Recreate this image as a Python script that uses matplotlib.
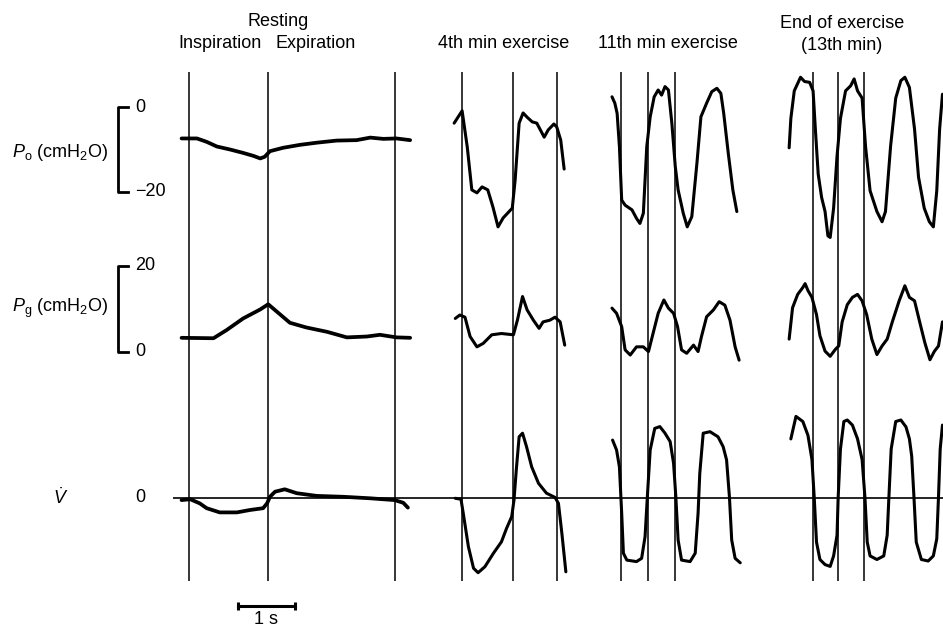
import numpy as np
import matplotlib
matplotlib.use('Agg')
from matplotlib import pyplot as plt

# --- traces, time in s from start of each recording, pressures in cmH2O, flow in L/s ---
rest_t_po = [0.01, 0.28, 0.45, 0.63, 0.86, 1.09, 1.27, 1.39, 1.47, 1.56, 1.79, 2.09, 2.38, 2.73, 3.08, 3.32, 3.55, 3.78, 4.02]
rest_po = [-7.4, -7.4, -8.2, -9.3, -10.0, -10.8, -11.5, -12.1, -11.7, -10.4, -9.6, -8.9, -8.4, -7.9, -7.8, -7.2, -7.5, -7.4, -7.8]
rest_t_pg = [0.01, 0.57, 0.80, 1.09, 1.39, 1.53, 1.68, 1.91, 2.20, 2.56, 2.91, 3.26, 3.49, 3.78, 4.02]
rest_pg = [3.3, 3.2, 5.1, 7.8, 9.9, 11.1, 9.4, 6.8, 5.7, 4.7, 3.4, 3.6, 4.0, 3.4, 3.3]
rest_t_v = [0.01, 0.16, 0.33, 0.45, 0.68, 0.98, 1.21, 1.44, 1.51, 1.56, 1.65, 1.82, 2.03, 2.38, 2.85, 3.32, 3.75, 3.90, 3.98]
rest_v = [-0.07, -0.04, -0.18, -0.34, -0.48, -0.48, -0.40, -0.34, -0.18, 0.04, 0.21, 0.29, 0.16, 0.07, 0.04, -0.01, -0.07, -0.16, -0.32]

ex4_t_po = [0.02, 0.16, 0.25, 0.33, 0.42, 0.51, 0.61, 0.70, 0.79, 0.88, 1.04, 1.09, 1.16, 1.23, 1.30, 1.39, 1.47, 1.60, 1.67, 1.77, 1.82, 1.89, 1.95]
ex4_po = [-3.8, -0.9, -9.4, -19.5, -20.2, -18.8, -19.5, -23.5, -28.2, -26.1, -23.8, -17.2, -3.8, -1.4, -2.4, -3.5, -3.8, -7.1, -5.4, -4.0, -4.7, -7.8, -14.6]
ex4_t_pg = [0.04, 0.12, 0.21, 0.30, 0.42, 0.53, 0.68, 0.85, 1.06, 1.13, 1.22, 1.30, 1.41, 1.51, 1.58, 1.70, 1.79, 1.88, 1.96]
ex4_pg = [7.8, 8.6, 8.1, 3.6, 1.2, 2.0, 4.0, 4.3, 4.0, 7.4, 12.9, 9.8, 7.4, 5.5, 7.0, 7.4, 8.1, 7.0, 1.6]
ex4_t_v = [0.04, 0.14, 0.18, 0.27, 0.36, 0.44, 0.56, 0.71, 0.85, 0.94, 1.03, 1.07, 1.11, 1.16, 1.22, 1.29, 1.38, 1.50, 1.64, 1.79, 1.85, 1.91, 1.98]
ex4_v = [-0.01, -0.04, -0.51, -1.62, -2.34, -2.49, -2.29, -1.84, -1.46, -1.01, -0.62, -0.07, 0.93, 2.04, 2.16, 1.71, 1.04, 0.49, 0.16, 0.02, -0.18, -1.18, -2.46]

ex11_t_po = [0.00, 0.05, 0.09, 0.13, 0.17, 0.23, 0.35, 0.43, 0.49, 0.55, 0.61, 0.67, 0.74, 0.81, 0.87, 0.93, 0.99, 1.05, 1.11, 1.16, 1.25, 1.32, 1.40, 1.49, 1.56, 1.66, 1.75, 1.84, 1.91, 1.96, 2.04, 2.12, 2.19]
ex11_po = [2.4, 0.9, -1.5, -9.3, -21.9, -23.1, -24.2, -26.2, -27.4, -25.0, -9.3, -2.3, 2.4, 4.0, 2.8, 4.8, 4.0, -3.8, -14.0, -19.5, -25.0, -28.2, -25.8, -13.2, -2.3, 0.9, 3.6, 4.4, 3.2, -1.5, -10.9, -19.5, -24.6]
ex11_t_pg = [0.00, 0.08, 0.17, 0.23, 0.32, 0.43, 0.55, 0.64, 0.72, 0.81, 0.91, 0.99, 1.08, 1.15, 1.22, 1.31, 1.43, 1.51, 1.57, 1.66, 1.78, 1.88, 1.98, 2.07, 2.16, 2.23]
ex11_pg = [10.2, 9.0, 5.9, 0.5, -0.7, 1.2, 1.2, 0.1, 4.3, 9.0, 12.1, 10.2, 9.0, 5.9, 0.5, -0.3, 1.6, 0.1, 3.6, 8.2, 9.8, 11.7, 10.9, 7.4, 1.2, -1.9]
ex11_t_v = [0.01, 0.08, 0.13, 0.17, 0.20, 0.26, 0.43, 0.52, 0.58, 0.62, 0.67, 0.75, 0.84, 0.93, 1.02, 1.08, 1.12, 1.16, 1.22, 1.37, 1.46, 1.51, 1.54, 1.60, 1.72, 1.86, 1.95, 2.01, 2.06, 2.10, 2.16, 2.25]
ex11_v = [1.93, 1.60, 1.04, -0.51, -1.84, -2.07, -2.12, -2.01, -1.29, 0.04, 1.60, 2.32, 2.38, 2.16, 1.88, 1.16, 0.04, -1.40, -2.07, -2.12, -1.84, -0.51, 0.82, 2.16, 2.21, 2.04, 1.71, 1.27, 0.04, -1.40, -2.01, -2.16]

end_t_po = [0.02, 0.05, 0.11, 0.22, 0.29, 0.38, 0.44, 0.48, 0.53, 0.59, 0.65, 0.70, 0.74, 0.80, 0.86, 0.92, 1.01, 1.10, 1.16, 1.22, 1.30, 1.36, 1.44, 1.56, 1.65, 1.71, 1.80, 1.89, 1.98, 2.05, 2.13, 2.22, 2.29, 2.39, 2.48, 2.55, 2.61, 2.66, 2.71]
end_po = [-9.6, -2.7, 3.8, 7.0, 6.0, 5.8, 3.8, -5.2, -15.8, -21.3, -24.6, -30.3, -30.7, -23.8, -11.6, -2.7, 3.8, 5.0, 6.6, 3.8, 2.1, -9.2, -19.7, -24.6, -27.0, -24.6, -9.2, 2.1, 6.2, 7.0, 4.6, -5.2, -16.5, -23.8, -27.0, -28.2, -19.7, -5.2, 3.0]
end_t_pg = [0.02, 0.08, 0.17, 0.26, 0.30, 0.35, 0.42, 0.50, 0.56, 0.65, 0.74, 0.83, 0.89, 0.95, 1.04, 1.13, 1.22, 1.30, 1.38, 1.47, 1.56, 1.65, 1.74, 1.83, 1.95, 2.05, 2.13, 2.22, 2.31, 2.40, 2.49, 2.57, 2.64, 2.71]
end_pg = [3.0, 10.3, 13.4, 15.0, 15.9, 14.3, 12.7, 8.7, 3.8, 0.2, -1.0, 0.6, 1.4, 7.0, 11.0, 12.7, 13.4, 11.9, 8.7, 3.0, -0.6, 1.4, 3.0, 7.0, 11.9, 15.4, 12.7, 11.9, 7.0, 2.2, -1.8, 0.2, 1.4, 7.0]
end_t_v = [0.05, 0.14, 0.26, 0.35, 0.42, 0.46, 0.50, 0.56, 0.65, 0.74, 0.80, 0.86, 0.88, 0.92, 0.98, 1.04, 1.13, 1.22, 1.30, 1.35, 1.39, 1.44, 1.56, 1.68, 1.74, 1.77, 1.81, 1.89, 1.98, 2.07, 2.13, 2.17, 2.21, 2.25, 2.34, 2.46, 2.55, 2.61, 2.64, 2.67, 2.71]
end_v = [1.97, 2.72, 2.55, 2.09, 1.28, 0.02, -1.47, -2.05, -2.22, -2.28, -1.93, -1.24, 0.02, 1.63, 2.55, 2.60, 2.43, 1.97, 1.28, 0.02, -1.47, -1.93, -2.05, -1.93, -1.24, 0.02, 1.63, 2.55, 2.60, 2.37, 1.97, 1.40, 0.02, -1.47, -2.05, -2.10, -1.93, -1.36, 0.02, 1.63, 2.43]

# phase markers (start of inspiration / expiration), s from start of each recording
rest_marks = [0.14, 1.53, 3.75]
ex4_marks = [0.16, 1.05, 1.82]
ex11_marks = [0.16, 0.63, 1.11]
end_marks = [0.44, 0.87, 1.33]

# --- layout ---
W, H = 943, 629
PX_PER_S = 57.0
FONT = 'Liberation Sans'

plt.rcParams['font.family'] = [FONT, 'DejaVu Sans']
plt.rcParams['mathtext.fontset'] = 'custom'
plt.rcParams['mathtext.rm'] = FONT
plt.rcParams['mathtext.it'] = FONT + ':italic'

def fy(py):
    return 1 - py / H

fig = plt.figure(figsize=(W / 100, H / 100), dpi=100)

def row_axes(top, bottom, zero_px, px_per_unit):
    ax = fig.add_axes([0, fy(bottom), 1, fy(top) - fy(bottom)])
    ax.set_xlim(0, W / PX_PER_S)
    ax.set_ylim((zero_px - bottom) / px_per_unit, (zero_px - top) / px_per_unit)
    ax.axis('off')
    return ax

ax_po = row_axes(72, 250, 107, 4.25)
ax_pg = row_axes(250, 400, 352, 4.3)
ax_v = row_axes(400, 581, 498, 30.0)
rows = [ax_po, ax_pg, ax_v]

segments = [
    # start (s on the page), line width, traces, markers
    (181 / PX_PER_S, 2.7, [(rest_t_po, rest_po), (rest_t_pg, rest_pg), (rest_t_v, rest_v)], rest_marks),
    (453 / PX_PER_S, 2.2, [(ex4_t_po, ex4_po), (ex4_t_pg, ex4_pg), (ex4_t_v, ex4_v)], ex4_marks),
    (612 / PX_PER_S, 2.2, [(ex11_t_po, ex11_po), (ex11_t_pg, ex11_pg), (ex11_t_v, ex11_v)], ex11_marks),
    (788 / PX_PER_S, 2.2, [(end_t_po, end_po), (end_t_pg, end_pg), (end_t_v, end_v)], end_marks),
]

for start, lw, traces, marks in segments:
    for ax, (t, y) in zip(rows, traces):
        ax.plot(start + np.array(t), y, color='black', lw=lw,
                solid_capstyle='round', solid_joinstyle='round', clip_on=False)
        for m in marks:
            ax.axvline(start + m, color='black', lw=1.1)

# flow zero line
ax_v.hlines(0, 173 / PX_PER_S, W / PX_PER_S, color='black', lw=1.2)

# calibration brackets
bx0, bx1, lx = 118 / PX_PER_S, 128 / PX_PER_S, 135 / PX_PER_S
ax_po.plot([bx1, bx0, bx0, bx1], [0, 0, -20, -20], color='black', lw=2.0, clip_on=False)
ax_pg.plot([bx1, bx0, bx0, bx1], [20, 20, 0, 0], color='black', lw=2.0, clip_on=False)
fs = 13
ax_po.text(lx, 0, '0', fontsize=fs, va='center', ha='left', clip_on=False)
ax_po.text(lx, -20, '\u221220', fontsize=fs, va='center', ha='left')
ax_pg.text(lx, 20, '20', fontsize=fs, va='center', ha='left')
ax_pg.text(lx, 0, '0', fontsize=fs, va='center', ha='left')
ax_v.text(lx, 0, '0', fontsize=fs, va='center', ha='left')

lab_x = 108 / PX_PER_S
ax_po.text(lab_x, -10.6, r'$P_{\mathrm{o}}$ (cmH$_2$O)', fontsize=fs, va='center', ha='right')
ax_pg.text(lab_x, 10.2, r'$P_{\mathrm{g}}$ (cmH$_2$O)', fontsize=fs, va='center', ha='right')
ax_v.text(61 / PX_PER_S, 0, r'$\dot{V}$', fontsize=fs, va='center', ha='center')

# 1 s scale bar
bar_x = 238 / PX_PER_S
bar_y = (498 - 606) / 30.0
ax_v.plot([bar_x, bar_x + 1], [bar_y, bar_y], color='black', lw=2.2, marker='|',
          markersize=6, markeredgewidth=2.2, clip_on=False)
ax_v.text(bar_x + 0.5, (498 - 611) / 30.0, '1 s', fontsize=fs, ha='center', va='top', clip_on=False)

# headers
headers = [
    ('Resting', 278, 22), ('Inspiration', 220, 44), ('Expiration', 316, 44),
    ('4th min exercise', 504, 44), ('11th min exercise', 668, 44),
    ('End of exercise', 842, 23), ('(13th min)', 842, 46),
]
for txt, px, py in headers:
    fig.text(px / W, fy(py), txt, fontsize=fs, ha='center', va='center')

fig.savefig('out.png', dpi=100)
